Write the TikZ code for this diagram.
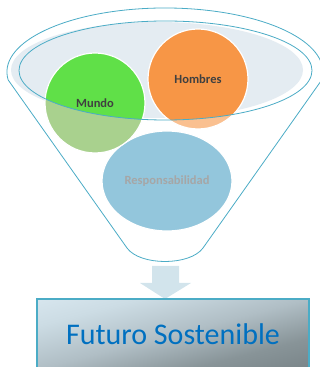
\documentclass[tikz,border=0pt]{standalone}
\usepackage{fontspec}
\setmainfont{Carlito}
\usetikzlibrary{shapes.geometric}

\begin{document}
\begin{tikzpicture}[
  x=1pt,
  y=1pt,
  rim/.style={draw=rimblue, line width=0.8pt},
  bubble/.style={circle, draw=white, line width=1.2pt, minimum size=100pt, inner sep=0pt},
  tag/.style={font=\fontsize{12.5}{14}\selectfont\bfseries, text=labelgray},
  every node/.style={inner sep=0pt}
]
\definecolor{rimblue}{RGB}{75,172,198}
\definecolor{rimfill}{RGB}{228,236,242}
\definecolor{mundogreen}{RGB}{96,224,72}
\definecolor{mundopale}{RGB}{169,209,142}
\definecolor{hombresorange}{RGB}{247,150,70}
\definecolor{hombrespale}{RGB}{250,192,144}
\definecolor{respblue}{RGB}{147,198,220}
\definecolor{labelgray}{RGB}{64,64,64}
\definecolor{respgray}{RGB}{166,166,166}
\definecolor{arrowfill}{RGB}{210,228,236}
\definecolor{futuroblue}{RGB}{0,112,192}
\definecolor{shadeA}{RGB}{108,118,122}
\definecolor{shadeB}{RGB}{136,148,152}
\definecolor{shadeC}{RGB}{176,190,197}
\definecolor{shadeD}{RGB}{204,220,228}
\definecolor{shadeE}{RGB}{226,240,248}
\pgfdeclareverticalshading{futuroshade}{100bp}{%
  color(0bp)=(shadeA); color(30bp)=(shadeB); color(50bp)=(shadeC);
  color(72bp)=(shadeD); color(100bp)=(shadeE)}

\useasboundingbox (0,0) rectangle (320,367);
\clip (0,0) rectangle (320,367);

\coordinate (rim)  at (165.5,296.5);
\coordinate (glow) at (157,297);
\coordinate (tip)  at (165,68);

% Funnel: top of the outer rim, straight sides, rounded spout.
\draw[rim, fill=white] (127,119) -- (8.2,287)
  arc[start angle=187.2, end angle=-7.2, x radius=158, y radius=64]
  -- (203,119) .. controls (190,101) and (140,101) .. (127,119);

% Mouth of the funnel.
\fill[rimfill] (glow) ellipse [x radius=146, y radius=48];

% Ideas poured into the funnel.
\node[ellipse, draw=white, line width=1.2pt, fill=respblue, minimum width=130pt,
      minimum height=100pt, font=\fontsize{12.5}{14}\selectfont\bfseries,
      text=respgray] (resp) at (167,186) {Responsabilidad};
\node[bubble, tag, fill=mundopale,
      path picture={\fill[mundogreen] (rim) ellipse [x radius=146.5pt, y radius=49.5pt];}]
  (mundo) at (95,264) {Mundo};
\node[bubble, tag, fill=hombrespale,
      path picture={\fill[hombresorange] (rim) ellipse [x radius=146.5pt, y radius=49.5pt];}]
  (hombres) at (198,288) {Hombres};

\draw[rim] (rim) ellipse [x radius=146.5, y radius=49.5];

% Block arrow down to the result.
\fill[arrowfill] (tip) -- ++(26,16) -- ++(-12,0) -- ++(0,17) -- ++(-27,0)
  -- ++(0,-17) -- ++(-12,0) -- cycle;

% Diagonal shading, stretched to the box so it runs corner to corner.
\begin{scope}[transform canvas={shift={(173,33)}, xscale=272/70}]
  \shade[shading=futuroshade, shading angle=45] (-35,-35) rectangle (35,35);
\end{scope}
\node[draw=rimblue, line width=2pt, minimum width=272pt, minimum height=70pt,
      font=\fontsize{30}{34}\selectfont, text=futuroblue]
  (futuro) at (173,33) {Futuro Sostenible};
\end{tikzpicture}
\end{document}
